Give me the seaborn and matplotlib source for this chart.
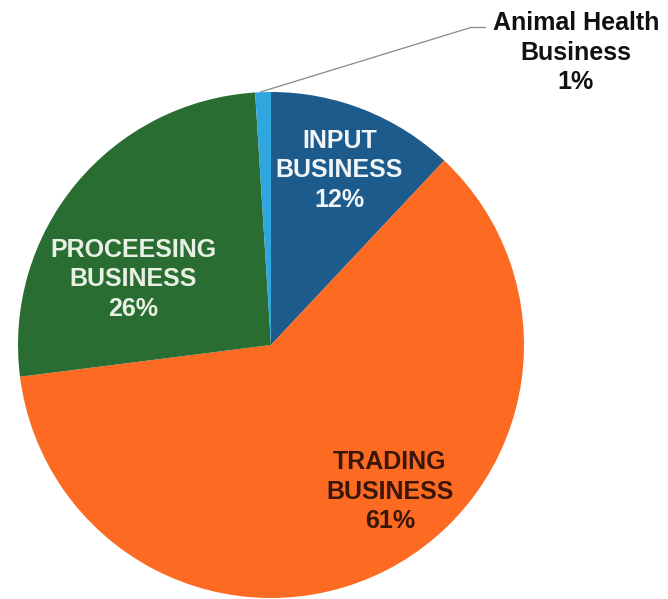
import matplotlib
matplotlib.use("Agg")
import matplotlib.pyplot as plt
import seaborn as sns
import numpy as np

sns.set_theme(style="white")
plt.rcParams["font.family"] = ["Liberation Sans", "DejaVu Sans"]

# Share of business segments
segments = ["INPUT\nBUSINESS", "TRADING\nBUSINESS", "PROCEESING\nBUSINESS", "Animal Health\nBusiness"]
shares = [12, 61, 26, 1]
colors = ["#1d5b8c", "#fd6a22", "#2a6d33", "#2fa6de"]
text_colors = ["#f2f5f8", "#3a1608", "#e9f1e4", "#111111"]
# label centres in pie units (radius = 1)
label_pos = [(0.27, 0.69), (0.47, -0.58), (-0.545, 0.26), (1.205, 1.155)]

fig = plt.figure(figsize=(6.68, 5.99), dpi=100)
ax = fig.add_axes([0, 0, 1, 1])

wedges, _ = ax.pie(shares, colors=colors, startangle=90, counterclock=False,
                   radius=1.0, wedgeprops=dict(linewidth=0))

for name, val, (x, y), tc in zip(segments, shares, label_pos, text_colors):
    ax.text(x, y, f"{name}\n{val}%", ha="center", va="center", color=tc,
            fontsize=18, fontweight="bold", linespacing=1.3, clip_on=False)

# leader line for the smallest slice
w = wedges[3]
mid = np.deg2rad((w.theta1 + w.theta2) / 2)
x0, y0 = np.cos(mid) * 1.0, np.sin(mid) * 1.0
ax.plot([x0 - 0.012, 0.79, 0.85], [y0, 1.255, 1.255], color="#888888", lw=0.9,
        solid_capstyle="butt", clip_on=False)

ax.set_xlim(-271 / 253, (668 - 271) / 253)
ax.set_ylim(-254 / 253, 345 / 253)
ax.set_aspect("auto")
ax.axis("off")

fig.savefig("out.png", dpi=100, facecolor="white")
